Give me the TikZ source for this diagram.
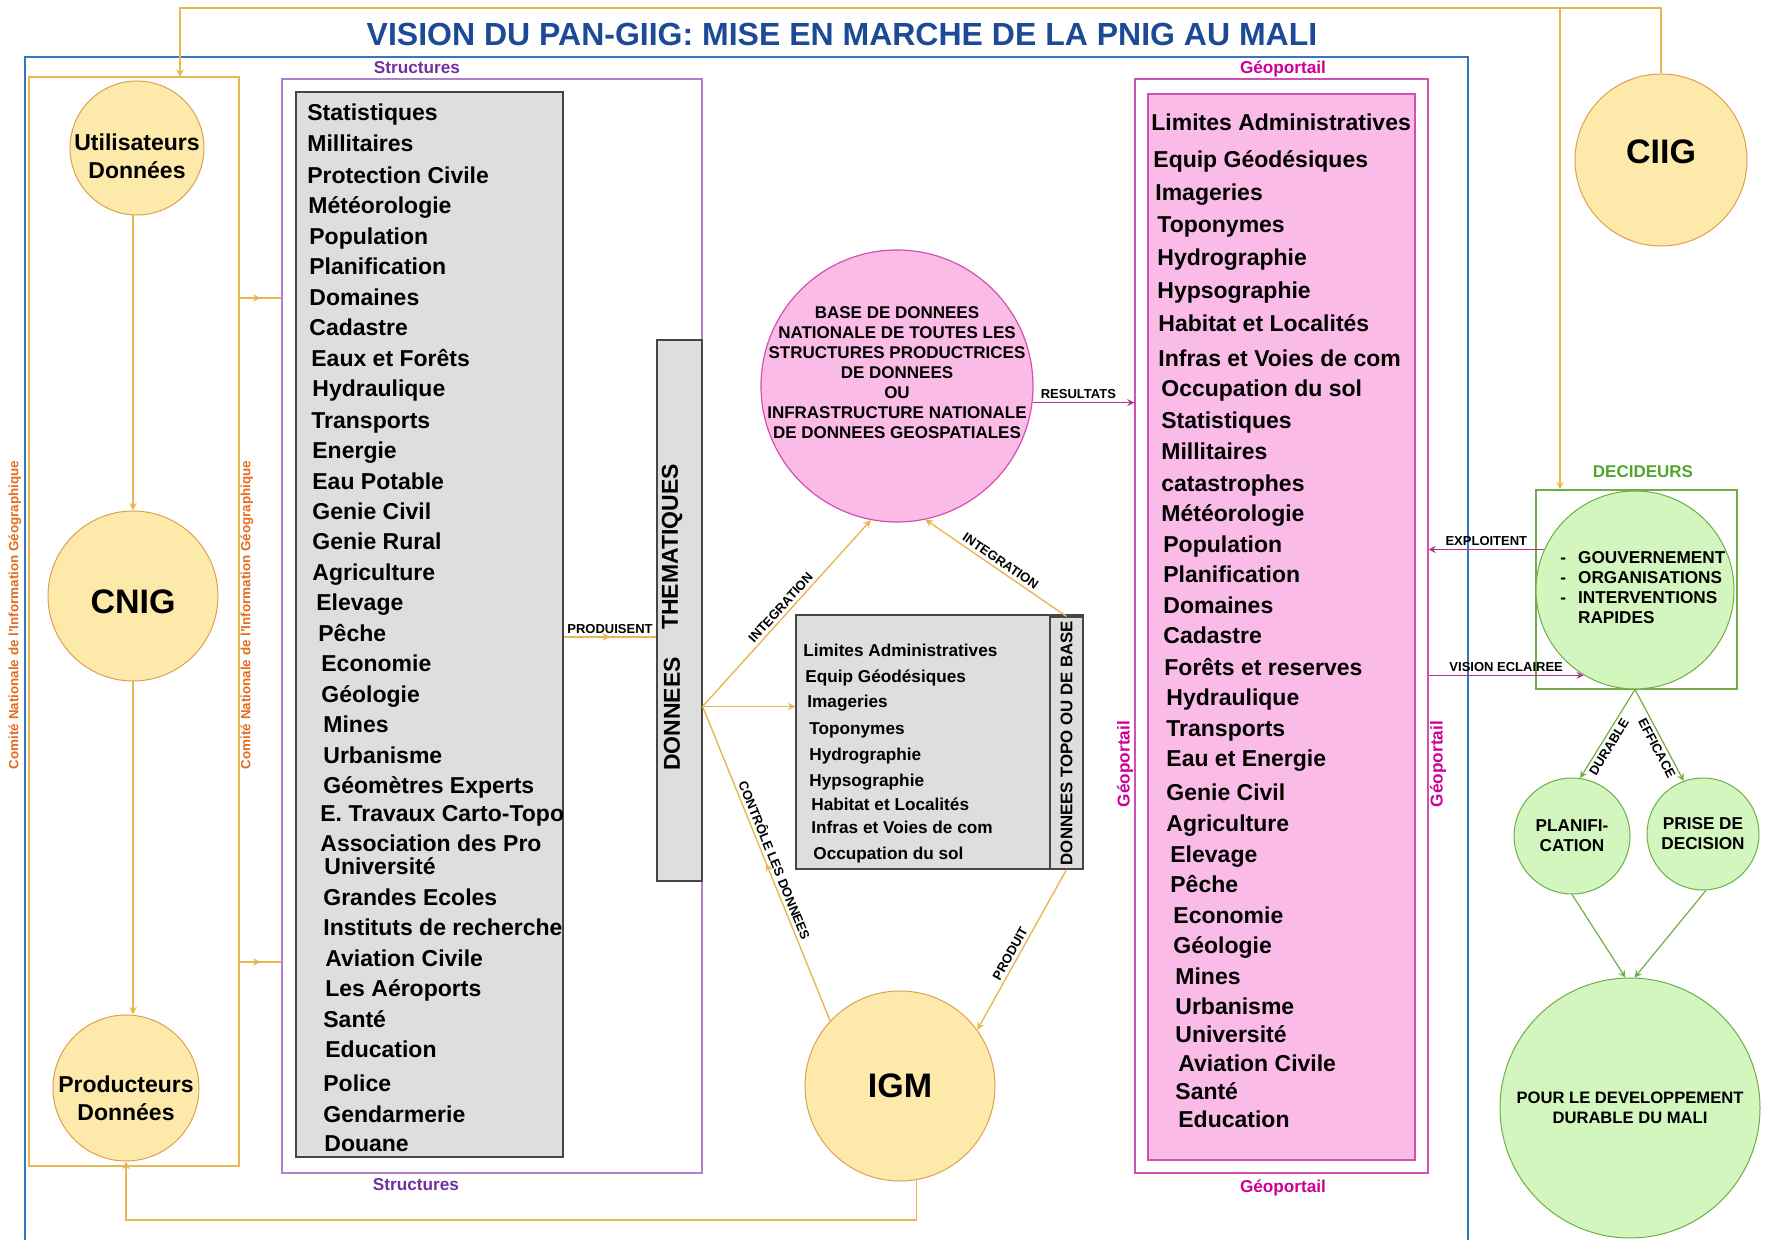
\documentclass[tikz,border=0pt]{standalone}
\usepackage{fontspec}
\setmainfont{Liberation Sans}
\usetikzlibrary{calc,positioning,fit,decorations.markings}
\tikzset{>=stealth}

\definecolor{titleblue}{RGB}{28,74,150}
\definecolor{frameblue}{RGB}{50,120,190}
\definecolor{goldline}{RGB}{232,184,80}
\definecolor{sunfill}{RGB}{253,233,170}
\definecolor{sundraw}{RGB}{222,160,80}
\definecolor{structpurple}{RGB}{112,48,160}
\definecolor{structline}{RGB}{175,130,200}
\definecolor{listgray}{RGB}{222,222,222}
\definecolor{listdraw}{RGB}{70,70,70}
\definecolor{geopink}{RGB}{250,187,230}
\definecolor{geoline}{RGB}{210,80,175}
\definecolor{geotext}{RGB}{204,0,153}
\definecolor{comiteorange}{RGB}{228,108,30}
\definecolor{leafgreen}{RGB}{112,173,71}
\definecolor{leaffill}{RGB}{210,246,190}
\definecolor{leaftext}{RGB}{80,165,45}
\definecolor{linkpink}{RGB}{180,50,140}

\begin{document}
\begin{tikzpicture}[
    x=0.5pt, y=-0.5pt,
    sun/.style={
      circle,
      draw=sundraw,
      fill=sunfill,
      line width=0.5pt,
      inner sep=0pt,
    },
    leaf/.style={
      circle,
      draw=leafgreen,
      fill=leaffill,
      line width=0.5pt,
      inner sep=0pt,
    },
    frame/.style={
      draw,
      inner sep=0pt,
      line width=0.6pt,
    },
    item/.style={
      anchor=west,
      inner sep=0pt,
      text height=1.6ex,
      text depth=0pt,
      font=\fontsize{11.5}{13}\selectfont\bfseries,
    },
    topoitem/.style={
      item,
      font=\fontsize{8.6}{10}\selectfont\bfseries,
    },
    tag/.style={
      inner sep=1.5pt,
      font=\fontsize{6.5}{8}\selectfont\bfseries,
    },
    caption/.style={
      align=center,
      inner sep=0pt,
      font=\fontsize{8.6}{10}\selectfont\bfseries,
    },
    link/.style={draw=goldline, line width=0.7pt},
    pinklink/.style={draw=linkpink, line width=0.6pt},
    greenlink/.style={draw=leafgreen, line width=0.6pt},
    midarrow/.style={
      postaction={decorate},
      decoration={markings, mark=at position 0.5 with {\arrow{>}}},
    },
  ]
  \useasboundingbox (0,0) rectangle (1769,1240);

  % title and outer frame
  \node[font=\fontsize{16}{18}\selectfont\bfseries, text=titleblue] (title) at (842,34)
    {VISION DU PAN-GIIG: MISE EN MARCHE DE LA PNIG AU MALI};
  \draw[frameblue, line width=0.9pt] (25,1240) |- (1468,57) -- (1468,1240);

  % CNIG column
  \node[frame, draw=goldline, fit={(29,77) (239,1166)}] (cnigbox) {};
  \node[sun, minimum size=67pt,
    label={[caption, font=\fontsize{11.5}{14}\selectfont\bfseries, yshift=-4pt]center:Utilisateurs\\Données}
  ] (users) at (137,148) {};
  \node[sun, minimum size=85pt,
    label={[caption, font=\fontsize{17}{20}\selectfont\bfseries, yshift=-3pt]center:CNIG}
  ] (cnig) at (133,596) {};
  \node[sun, minimum size=73pt,
    label={[caption, font=\fontsize{11.5}{14}\selectfont\bfseries, yshift=-5pt]center:Producteurs\\Données}
  ] (prod) at (126,1088) {};
  \foreach \cx [count=\i] in {15,247}
    \node[rotate=90, text=comiteorange, font=\fontsize{6.7}{8}\selectfont\bfseries]
      (comite\i) at (\cx,615) {Comité Nationale de l'Information Géographique};

  % structures
  \node[frame, draw=structline, fit={(282,79) (702,1173)}] (structbox) {};
  \node[text=structpurple, font=\fontsize{8.6}{10}\selectfont\bfseries] (structtop) at (417,68) {Structures};
  \node[text=structpurple, font=\fontsize{8.6}{10}\selectfont\bfseries] (structbot) at (416,1185) {Structures};
  \node[frame, draw=listdraw, fill=listgray, fit={(296,92) (563,1157)}] (themlist) {};
  \foreach \txt/\x/\y [count=\i] in {
      Statistiques/307/112, Millitaires/307/143, Protection Civile/307/175,
      Météorologie/308/205, Population/309/236, Planification/309/266,
      Domaines/309/297, Cadastre/309/327, Eaux et Forêts/311/358,
      Hydraulique/312/388, Transports/311/420, Energie/312/450,
      Eau Potable/312/481, Genie Civil/312/511, Genie Rural/312/541,
      Agriculture/312/572, Elevage/316/602, Pêche/318/633,
      Economie/321/663, Géologie/321/694, Mines/323/724,
      Urbanisme/323/755, Géomètres Experts/323/785, E. Travaux Carto-Topo/320/813,
      Association des Pro/320/843, Université/324/866, Grandes Ecoles/323/897,
      Instituts de recherche/323/927, Aviation Civile/325/958, Les Aéroports/325/988,
      Santé/323/1019, Education/325/1049, Police/323/1083,
      Gendarmerie/323/1114, Douane/324/1143}
    \node[item] (struct\i) at (\x,\y) {\txt};
  \node[frame, draw=listdraw, fill=listgray, fit={(657,340) (702,881)}] (thembox) {};
  \node[rotate=90, font=\fontsize{11.5}{13}\selectfont\bfseries] (themA) at (672,714) {DONNEES};
  \node[rotate=90, font=\fontsize{11.5}{13}\selectfont\bfseries] (themB) at (672,547) {THEMATIQUES};
  \coordinate (themout) at ($(thembox.north east)!0.677!(thembox.south east)$);

  % national database
  \node[circle, draw=geoline, fill=geopink, line width=0.6pt, minimum size=136pt,
    label={[caption, font=\fontsize{8.5}{10}\selectfont\bfseries, yshift=6.5pt]center:
      BASE DE DONNEES\\NATIONALE DE TOUTES LES\\STRUCTURES PRODUCTRICES\\DE DONNEES\\OU\\
      INFRASTRUCTURE NATIONALE\\DE DONNEES GEOSPATIALES}
  ] (base) at (897,386) {};

  % topo data
  \node[frame, draw=listdraw, fill=listgray, fit={(796,615) (1083,869)}] (topobox) {};
  \node[frame, draw=listdraw, fit={(1050,617) (1083,869)}] (topotag) {};
  \node[rotate=90, font=\fontsize{8.4}{10}\selectfont\bfseries] (topotitle) at (topotag) {DONNEES TOPO OU DE BASE};
  \foreach \txt/\x/\y [count=\i] in {
      Limites Administratives/803/648, Equip Géodésiques/805/674, Imageries/807/699,
      Toponymes/809/726, Hydrographie/809/752, Hypsographie/809/778,
      Habitat et Localités/811/802, Infras et Voies de com/811/825, Occupation du sol/813/851}
    \node[topoitem] (topo\i) at (\x,\y) {\txt};

  \node[sun, minimum size=95pt,
    label={[caption, font=\fontsize{17}{20}\selectfont\bfseries]center:IGM}
  ] (igm) at (900,1086) {};

  % geoportail
  \node[frame, draw=geoline, fit={(1135,79) (1428,1173)}] (geobox) {};
  \node[frame, draw=geoline, fill=geopink, fit={(1148,94) (1415,1160)}] (geolist) {};
  \node[text=geotext, font=\fontsize{8.6}{10}\selectfont\bfseries] (geotop) at (1283,69) {Géoportail};
  \node[text=geotext, font=\fontsize{8.6}{10}\selectfont\bfseries] (geobot) at (1283,1188) {Géoportail};
  \node[rotate=90, text=geotext, font=\fontsize{8.6}{10}\selectfont\bfseries] (geoleft) at (1125,764) {Géoportail};
  \node[rotate=90, text=geotext, font=\fontsize{8.6}{10}\selectfont\bfseries] (georight) at (1438,764) {Géoportail};
  \foreach \txt/\x/\y [count=\i] in {
      Limites Administratives/1151/122, Equip Géodésiques/1153/159, Imageries/1155/192,
      Toponymes/1157/224, Hydrographie/1157/257, Hypsographie/1157/290,
      Habitat et Localités/1158/323, Infras et Voies de com/1158/358, Occupation du sol/1161/388,
      Statistiques/1161/420, Millitaires/1161/451, catastrophes/1161/483,
      Météorologie/1161/513, Population/1163/544, Planification/1163/574,
      Domaines/1163/605, Cadastre/1163/635, Forêts et reserves/1164/667,
      Hydraulique/1166/697, Transports/1166/728, Eau et Energie/1166/758,
      Genie Civil/1166/792, Agriculture/1166/823, Elevage/1170/854,
      Pêche/1170/884, Economie/1173/915, Géologie/1173/945,
      Mines/1175/976, Urbanisme/1175/1006, Université/1175/1034,
      Aviation Civile/1178/1063, Santé/1175/1091, Education/1178/1119}
    \node[item] (geo\i) at (\x,\y) {\txt};

  % CIIG and decision makers
  \node[sun, minimum size=86pt,
    label={[caption, font=\fontsize{17}{20}\selectfont\bfseries, yshift=4pt]center:CIIG}
  ] (ciig) at (1661,160) {};
  \node[frame, draw=leafgreen, fit={(1536,490) (1737,689)}] (decbox) {};
  \node[text=leaftext, font=\fontsize{8.5}{10}\selectfont\bfseries] (dectitle) at (1643,472) {DECIDEURS};
  \node[leaf, minimum size=99pt] (gov) at (1635,590) {};
  \node[caption, anchor=west, align=left] (govtext) at (1560,590)
    {\begin{tabular}{@{}l@{\hspace{6pt}}l@{}}-&GOUVERNEMENT\\-&ORGANISATIONS\\-&INTERVENTIONS\\&RAPIDES\end{tabular}};
  \node[leaf, minimum size=58pt,
    label={[caption]center:PLANIFI-\\CATION}
  ] (plan) at (1572,836) {};
  \node[leaf, minimum size=56pt,
    label={[caption]center:PRISE DE\\DECISION}
  ] (prise) at (1703,834) {};
  \node[leaf, minimum size=130pt,
    label={[caption, font=\fontsize{8.3}{10}\selectfont\bfseries]center:POUR LE DEVELOPPEMENT\\DURABLE DU MALI}
  ] (devel) at (1630,1108) {};

  % gold connectors
  \coordinate (rail) at (0,8);
  \coordinate (usersin) at (180,77);
  \coordinate (branch) at (1560,8);
  \draw[link, ->] (ciig.north) |- (usersin |- rail) -- (usersin);
  \draw[link, ->] (branch) -- (branch |- decbox.north);
  \draw[link, ->] (cnig.north |- users.south) -- (cnig.north);
  \draw[link, ->] (cnig.south) -- (cnig.south |- prod.north);
  \draw[link, midarrow] (cnigbox.east |- 0,298) -- (structbox.west |- 0,298);
  \draw[link, midarrow] (cnigbox.east |- 0,962) -- (structbox.west |- 0,962);
  \draw[link, midarrow] (themlist.east |- 0,637) -- node[tag, above] {PRODUISENT} (thembox.west |- 0,637);
  \draw[link, ->] (themout) -- node[tag, sloped, above] {INTEGRATION} (base.259);
  \draw[link, ->] (themout) -- (topobox.west |- themout);
  \draw[link, midarrow] (igm.137) -- node[tag, sloped, above] {CONTRÔLE LES DONNEES} (themout);
  \draw[link, ->] (topotag.north) -- node[tag, sloped, above] {INTEGRATION} (base.282);
  \draw[link, ->] (topotag.south) -- node[tag, sloped, above, pos=0.55] {PRODUIT} (igm.36);
  \draw[link, ->] (igm.-80) -- ++(0,40) -| (prod.south);

  % pink connectors
  \draw[pinklink, ->] (base.-7) -- node[tag, above, pos=0.45] {RESULTATS} (base.-7 -| geobox.west);
  \draw[pinklink, ->] (gov.156) -- node[tag, above] {EXPLOITENT} (gov.156 -| geobox.east);
  \draw[pinklink, ->] (gov.239 -| geobox.east) -- node[tag, above] {VISION ECLAIREE} (gov.239);

  % green connectors
  \draw[greenlink, ->] (gov.south) -- node[tag, sloped, below, pos=0.6] {DURABLE} (plan.82);
  \draw[greenlink, ->] (gov.south) -- node[tag, sloped, below, pos=0.6] {EFFICACE} (prise.110);
  \draw[greenlink, ->] (plan.south) -- (devel.92);
  \draw[greenlink, ->] (prise.-87) -- (devel.88);
\end{tikzpicture}
\end{document}
